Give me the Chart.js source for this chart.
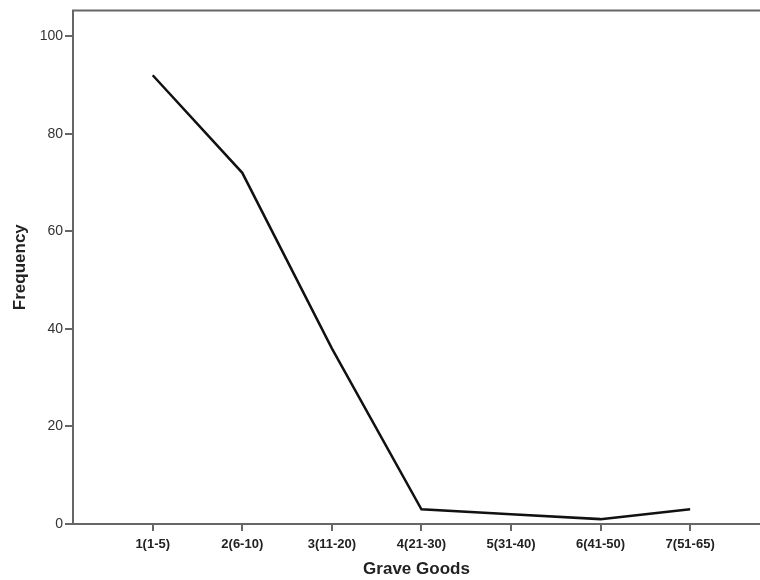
<!DOCTYPE html>
<html>
<head>
<meta charset="utf-8">
<script src="https://cdn.jsdelivr.net/npm/chart.js@4/dist/chart.umd.min.js"></script>
<style>
  body { margin: 0; background: #fff; }
  #wrap { width: 760px; height: 580px; }
</style>
</head>
<body>
<div id="wrap"><canvas id="grafica"></canvas></div>
<script>
// datos
const categorias = ['1(1-5)', '2(6-10)', '3(11-20)', '4(21-30)', '5(31-40)', '6(41-50)', '7(51-65)'];
const frecuencias = [92, 72, 36, 3, 2, 1, 3];
const ticksY = [0, 20, 40, 60, 80, 100];

const gris = '#666';

// marco del area de trazado: izquierda, arriba y abajo (la derecha queda fuera)
const marco = {
  id: 'marco',
  afterDraw(chart) {
    const { ctx, chartArea: a } = chart;
    ctx.save();
    ctx.strokeStyle = gris;
    ctx.lineWidth = 2;
    ctx.beginPath();
    ctx.moveTo(a.right + 2, a.top);
    ctx.lineTo(a.left, a.top);
    ctx.lineTo(a.left, a.bottom);
    ctx.lineTo(a.right + 2, a.bottom);
    ctx.stroke();
    ctx.restore();
  }
};

const ctx = document.getElementById('grafica').getContext('2d');
const grafica = new Chart(ctx, {
  type: 'line',
  data: {
    datasets: [{
      label: 'Frequency',
      data: frecuencias.map((v, i) => ({ x: i + 1, y: v })),
      borderColor: '#111',
      borderWidth: 2.5,
      pointRadius: 0,
      fill: false,
      tension: 0
    }]
  },
  options: {
    responsive: true,
    maintainAspectRatio: false,
    animation: false,
    layout: { padding: { top: 9, right: 0, left: 0, bottom: 0 } },
    plugins: { legend: { display: false }, tooltip: { enabled: false } },
    scales: {
      x: {
        type: 'linear',
        min: 0.11,
        max: 7.78,
        afterBuildTicks: s => { s.ticks = categorias.map((c, i) => ({ value: i + 1 })); },
        afterFit: s => { s.height = 56; },
        border: { display: false },
        grid: { drawOnChartArea: false, tickLength: 7, color: gris, lineWidth: 2 },
        ticks: {
          callback: (v) => categorias[v - 1],
          color: '#222',
          padding: 6,
          maxRotation: 0,
          autoSkip: false,
          font: { family: 'Liberation Sans, Arial', size: 13, weight: 'bold' }
        },
        title: {
          display: true,
          text: 'Grave Goods',
          color: '#222',
          padding: { top: 0, bottom: 0 },
          font: { family: 'Liberation Sans, Arial', size: 17, weight: 'bold' }
        }
      },
      y: {
        min: 0,
        max: 105.3,
        afterBuildTicks: s => { s.ticks = ticksY.map(v => ({ value: v })); },
        afterFit: s => { s.width = 73; },
        border: { display: false },
        grid: { drawOnChartArea: false, tickLength: 8, color: gris, lineWidth: 2 },
        ticks: {
          color: '#333',
          padding: 2,
          font: { family: 'Liberation Sans, Arial', size: 14 }
        },
        title: {
          display: true,
          text: 'Frequency',
          color: '#222',
          padding: { top: 10, bottom: 0 },
          font: { family: 'Liberation Sans, Arial', size: 17, weight: 'bold' }
        }
      }
    }
  },
  plugins: [marco]
});
</script>
</body>
</html>
